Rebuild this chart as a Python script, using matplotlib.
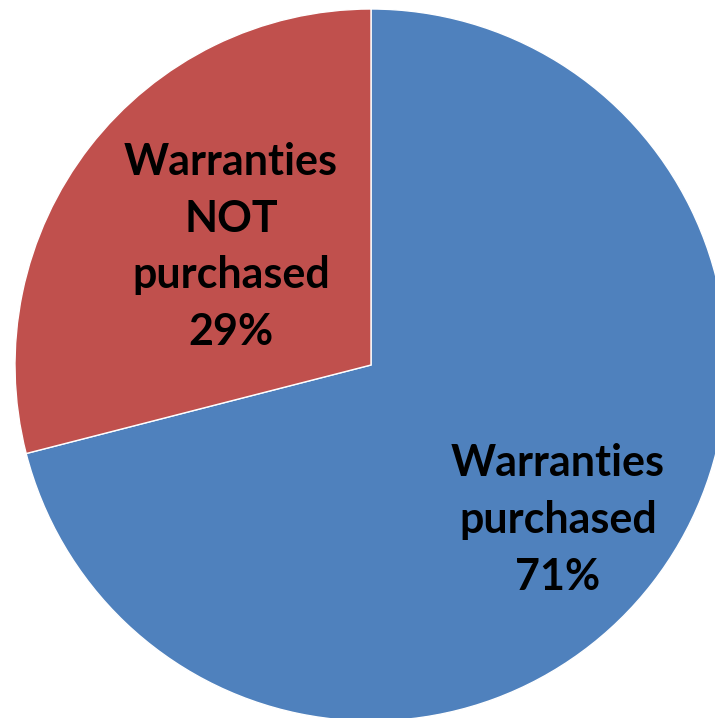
import matplotlib
matplotlib.use('Agg')
import matplotlib.pyplot as plt

# data
labels = ['Warranties\npurchased', 'Warranties\nNOT\npurchased']
shares = [71, 29]
colors = ['#4F81BD', '#C0504D']

W, H = 715, 718
fig = plt.figure(figsize=(W / 100, H / 100), dpi=100)
ax = fig.add_axes([0, 0, 1, 1])

cx, cy, r = 371, H - 365, 356
ax.pie(shares, colors=colors, startangle=90, counterclock=False,
       center=(cx, cy), radius=r,
       wedgeprops=dict(edgecolor='white', linewidth=1))
ax.set_xlim(0, W)
ax.set_ylim(0, H)
ax.set_aspect('equal')
ax.axis('off')

# label positions (pixels from top-left)
label_pos = [(558, 520), (231, 247)]
for lab, val, (x, y) in zip(labels, shares, label_pos):
    ax.text(x, H - y, f'{lab}\n{val}%', ha='center', va='center',
            fontsize=31, fontweight='bold', family='Lato',
            linespacing=1.5, color='black')

fig.savefig('out.png', dpi=100)
